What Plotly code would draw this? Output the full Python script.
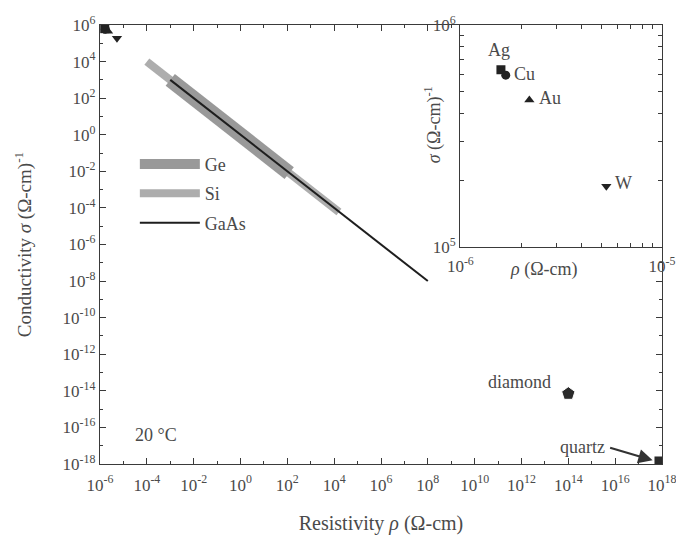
import math
import plotly.graph_objects as go

# ---------------- data ----------------
ge_rho = [1e-3, 1.2e2]
ge_sigma = [1e3, 8e-3]
si_rho = [1e-4, 1.6e4]
si_sigma = [1e4, 6e-5]
gaas_rho = [1e-3, 1e8]
gaas_sigma = [1e3, 1e-8]

metal_names = ["Ag", "Cu", "Au", "W"]
metal_rho = [1.59e-6, 1.68e-6, 2.2e-6, 5.3e-6]
metal_sigma = [6.3e5, 5.95e5, 4.6e5, 1.88e5]
metal_symbols = ["square", "circle", "triangle-up", "triangle-down"]

insulator_names = ["diamond", "quartz"]
insulator_rho = [1e14, 1e18]
insulator_sigma = [7e-15, 1e-18]
insulator_symbols = ["pentagon", "square"]

main_x_ticks = [-6, -4, -2, 0, 2, 4, 6, 8, 10, 12, 14, 16, 18]
main_y_ticks = [6, 4, 2, 0, -2, -4, -6, -8, -10, -12, -14, -16, -18]
inset_x_ticks = [-6, -5]
inset_y_ticks = [5, 6]

# ---------------- styling ----------------
FONT = "Liberation Serif"
TXT = "#4a4a4a"
LINE = "#3a3a3a"
PAD = 0.0005


def sup(e):
    return "10<sup>%d</sup>" % e


fig = go.Figure()

fig.add_trace(go.Scatter(x=si_rho, y=si_sigma, mode="lines", name="Si",
                         line=dict(color="#adadad", width=8), legendrank=2,
                         legendgroup="si"))
fig.add_trace(go.Scatter(x=ge_rho, y=ge_sigma, mode="lines", name="Ge",
                         line=dict(color="#999999", width=15), legendrank=1,
                         legendgroup="ge"))
fig.add_trace(go.Scatter(x=gaas_rho, y=gaas_sigma, mode="lines", name="GaAs",
                         line=dict(color="#1e1e1e", width=2), legendrank=3,
                         legendgroup="gaas"))

# metals in main plot
fig.add_trace(go.Scatter(x=metal_rho, y=metal_sigma, mode="markers", showlegend=False,
                         marker=dict(symbol=metal_symbols, size=9, color="#222", opacity=1)))
# insulators
fig.add_trace(go.Scatter(x=insulator_rho, y=insulator_sigma, mode="markers", showlegend=False,
                         marker=dict(symbol=insulator_symbols, size=[14, 16], color="#2a2a2a",
                                     opacity=1)))

# inset
fig.add_trace(go.Scatter(x=metal_rho, y=metal_sigma, mode="markers", showlegend=False,
                         xaxis="x2", yaxis="y2",
                         marker=dict(symbol=metal_symbols, size=9, color="#222", opacity=1)))

minor_main_x = [10.0 ** e for e in range(-5, 18, 2)]
minor_main_y = [10.0 ** e for e in range(-17, 6, 2)]
minor_inset_x = [k * 1e-6 for k in range(2, 10)]
minor_inset_y = [k * 1e5 for k in range(2, 10)]

axis_common = dict(type="log", showline=True, linecolor=LINE, linewidth=1.3,
                   mirror="ticks", ticks="inside", ticklen=6, tickcolor=LINE,
                   showgrid=False, zeroline=False, automargin=False,
                   ticklabeloverflow="allow",
                   tickfont=dict(family=FONT, size=17, color=TXT))

fig.update_layout(
    width=676, height=536,
    margin=dict(l=100, r=14, t=25, b=72, autoexpand=False),
    paper_bgcolor="white", plot_bgcolor="white",
    font=dict(family=FONT, color=TXT),
    xaxis=dict(axis_common, range=[-6 - PAD, 18 + PAD],
               tickvals=[10.0 ** e for e in main_x_ticks],
               ticktext=[sup(e) for e in main_x_ticks],
               ticklabelstandoff=5,
               minor=dict(tickvals=minor_main_x, ticks="inside", ticklen=3, tickcolor=LINE),
               title=dict(text="Resistivity <i>ρ</i> (Ω-cm)", font=dict(family=FONT, size=20, color=TXT),
                          standoff=22)),
    yaxis=dict(axis_common, range=[-18 - PAD, 6 + PAD],
               tickvals=[10.0 ** e for e in main_y_ticks],
               ticktext=[sup(e) for e in main_y_ticks],
               minor=dict(tickvals=minor_main_y, ticks="inside", ticklen=3, tickcolor=LINE),
               title=dict(text="Conductivity <i>σ</i> (Ω-cm)<sup>-1</sup>",
                          font=dict(family=FONT, size=19, color=TXT), standoff=25)),
    xaxis2=dict(axis_common, range=[-6 - PAD, -5 + PAD], domain=[0.641, 1.0], anchor="y2",
                tickvals=[10.0 ** e for e in inset_x_ticks],
                ticktext=[sup(e) for e in inset_x_ticks],
                ticklabelstandoff=3,
                minor=dict(tickvals=minor_inset_x, ticks="inside", ticklen=4, tickcolor=LINE)),
    yaxis2=dict(axis_common, range=[5 - PAD, 6 + PAD], domain=[0.494, 1.0], anchor="x2",
                tickvals=[10.0 ** e for e in inset_y_ticks],
                ticktext=[sup(e) for e in inset_y_ticks],
                minor=dict(tickvals=minor_inset_y, ticks="inside", ticklen=4, tickcolor=LINE)),
    legend=dict(x=0.062, y=0.725, xanchor="left", yanchor="top",
                bgcolor="rgba(0,0,0,0)", tracegroupgap=3, itemwidth=60,
                font=dict(family=FONT, size=18, color=TXT)),
    showlegend=True,
)

# inset metal labels
label_offsets = {"Ag": (-2, -20), "Cu": (19, -1), "Au": (21, -2), "W": (17, -3)}
for name, r, s in zip(metal_names, metal_rho, metal_sigma):
    dx, dy = label_offsets[name]
    fig.add_annotation(x=math.log10(r), y=math.log10(s),
                       xref="x2", yref="y2", text=name, showarrow=False,
                       xshift=dx, yshift=-dy,
                       font=dict(family=FONT, size=18, color=TXT))

# inset axis titles
fig.add_annotation(x=0.79, y=0.442, xref="paper", yref="paper", xanchor="center",
                   yanchor="middle", text="<i>ρ</i> (Ω-cm)", showarrow=False,
                   font=dict(family=FONT, size=18, color=TXT))
fig.add_annotation(x=0.593, y=0.772, xref="paper", yref="paper", xanchor="center",
                   yanchor="middle", textangle=-90, text="<i>σ</i> (Ω-cm)<sup>-1</sup>",
                   showarrow=False, font=dict(family=FONT, size=18, color=TXT))

fig.add_annotation(x=0.1, y=0.066, xref="paper", yref="paper", xanchor="center",
                   yanchor="middle", text="20 °C", showarrow=False,
                   font=dict(family=FONT, size=18, color=TXT))

fig.add_annotation(x=0.806, y=0.187, xref="paper", yref="paper", xanchor="right",
                   yanchor="middle", text="diamond", showarrow=False,
                   font=dict(family=FONT, size=18, color=TXT))

fig.add_annotation(x=0.902, y=0.039, xref="paper", yref="paper", xanchor="right",
                   yanchor="middle", text="quartz", showarrow=False,
                   font=dict(family=FONT, size=18, color=TXT))

fig.add_annotation(x=17.6, y=-17.8, xref="x", yref="y", text="",
                   showarrow=True, arrowhead=2, arrowsize=1.3, arrowwidth=2.2,
                   arrowcolor="#333", ax=-44, ay=-13)

fig.write_html("out.html")
